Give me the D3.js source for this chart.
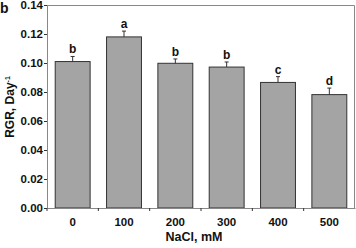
<!DOCTYPE html>
<html>
<head>
<meta charset="utf-8">
<script src="https://cdn.jsdelivr.net/npm/d3@7"></script>
<style>
  body { margin: 0; background: #fff; }
  text { font-family: "Liberation Sans", Arial, sans-serif; font-weight: bold; fill: #111; }
</style>
</head>
<body>
<script>
// RGR vs NaCl bar chart (panel b)
var categories = ["0", "100", "200", "300", "400", "500"];
var values = [0.101, 0.118, 0.0998, 0.0972, 0.0866, 0.0782];
var errors = [0.0035, 0.004, 0.003, 0.0035, 0.004, 0.0045];
var letters = ["b", "a", "b", "b", "c", "d"];
var yTicks = [0, 0.02, 0.04, 0.06, 0.08, 0.10, 0.12, 0.14];

var margin = {top: 5, right: 1, bottom: 40, left: 47},
    width = 356 - margin.left - margin.right,
    height = 248 - margin.top - margin.bottom;

var svg = d3.select("body").append("svg")
    .attr("width", 356)
    .attr("height", 248);

var g = svg.append("g")
    .attr("transform", "translate(" + margin.left + "," + margin.top + ")");

var x = d3.scaleBand()
    .domain(categories)
    .range([0, width])
    .paddingInner(0.32)
    .paddingOuter(0.16);

var y = d3.scaleLinear()
    .domain([0, 0.14])
    .range([height, 0]);

// frame (top and right)
g.append("path")
    .attr("d", "M0,0.5H" + (width - 0.5) + "V" + height)
    .attr("fill", "none")
    .attr("stroke", "#888")
    .attr("stroke-width", 1);

// bars
g.selectAll(".bar")
    .data(values)
    .enter().append("rect")
    .attr("class", "bar")
    .attr("x", function(d, i) { return x(categories[i]); })
    .attr("width", x.bandwidth())
    .attr("y", function(d) { return y(d); })
    .attr("height", function(d) { return height - y(d); })
    .attr("fill", "#a4a4a4")
    .attr("stroke", "#333")
    .attr("stroke-width", 1);

// error bars
var cx = function(i) { return x(categories[i]) + x.bandwidth() / 2; };
g.selectAll(".err")
    .data(values)
    .enter().append("line")
    .attr("x1", function(d, i) { return cx(i); })
    .attr("x2", function(d, i) { return cx(i); })
    .attr("y1", function(d) { return y(d); })
    .attr("y2", function(d, i) { return y(d + errors[i]); })
    .attr("stroke", "#333");

g.selectAll(".cap")
    .data(values)
    .enter().append("line")
    .attr("x1", function(d, i) { return cx(i) - 2; })
    .attr("x2", function(d, i) { return cx(i) + 2; })
    .attr("y1", function(d, i) { return y(d + errors[i]); })
    .attr("y2", function(d, i) { return y(d + errors[i]); })
    .attr("stroke", "#333");

// significance letters
g.selectAll(".lbl")
    .data(values)
    .enter().append("text")
    .attr("x", function(d, i) { return cx(i); })
    .attr("y", function(d, i) { return y(d + errors[i]) - 3; })
    .attr("text-anchor", "middle")
    .attr("font-size", 12)
    .text(function(d, i) { return letters[i]; });

// y axis
var yAxis = g.append("g")
    .call(d3.axisLeft(y).tickValues(yTicks).tickFormat(d3.format(".2f")).tickSize(3).tickSizeOuter(0));
yAxis.select(".domain").attr("stroke", "#888");
yAxis.selectAll(".tick line").attr("stroke", "#333");
yAxis.selectAll("text").attr("font-size", 11.5).attr("x", -4).style("font-family", "Liberation Sans, Arial, sans-serif");

// x axis: ticks between bars
var xAxis = g.append("g")
    .attr("transform", "translate(0," + height + ")")
    .call(d3.axisBottom(x).tickSize(0).tickSizeOuter(0));
xAxis.select(".domain").attr("stroke", "#888");
xAxis.selectAll("text").attr("font-size", 11.5).attr("y", 0).attr("dy", "1.6em").style("font-family", "Liberation Sans, Arial, sans-serif");

var bounds = d3.range(categories.length).map(function(i) { return x.step() * i; });
g.selectAll(".xtick")
    .data(bounds)
    .enter().append("line")
    .attr("x1", function(d) { return d; })
    .attr("x2", function(d) { return d; })
    .attr("y1", height)
    .attr("y2", height + 3)
    .attr("stroke", "#333");

// axis titles
svg.append("text")
    .attr("transform", "translate(14,107) rotate(-90)")
    .attr("text-anchor", "middle")
    .attr("font-size", 12)
    .html("RGR, Day<tspan dy='-4' font-size='7'>-1</tspan>");

svg.append("text")
    .attr("x", margin.left + width / 2 - 7)
    .attr("y", 241)
    .attr("text-anchor", "middle")
    .attr("font-size", 12.5)
    .text("NaCl, mM");

// panel letter
svg.append("text")
    .attr("x", 0)
    .attr("y", 13)
    .attr("font-size", 14)
    .text("b");
</script>
</body>
</html>
